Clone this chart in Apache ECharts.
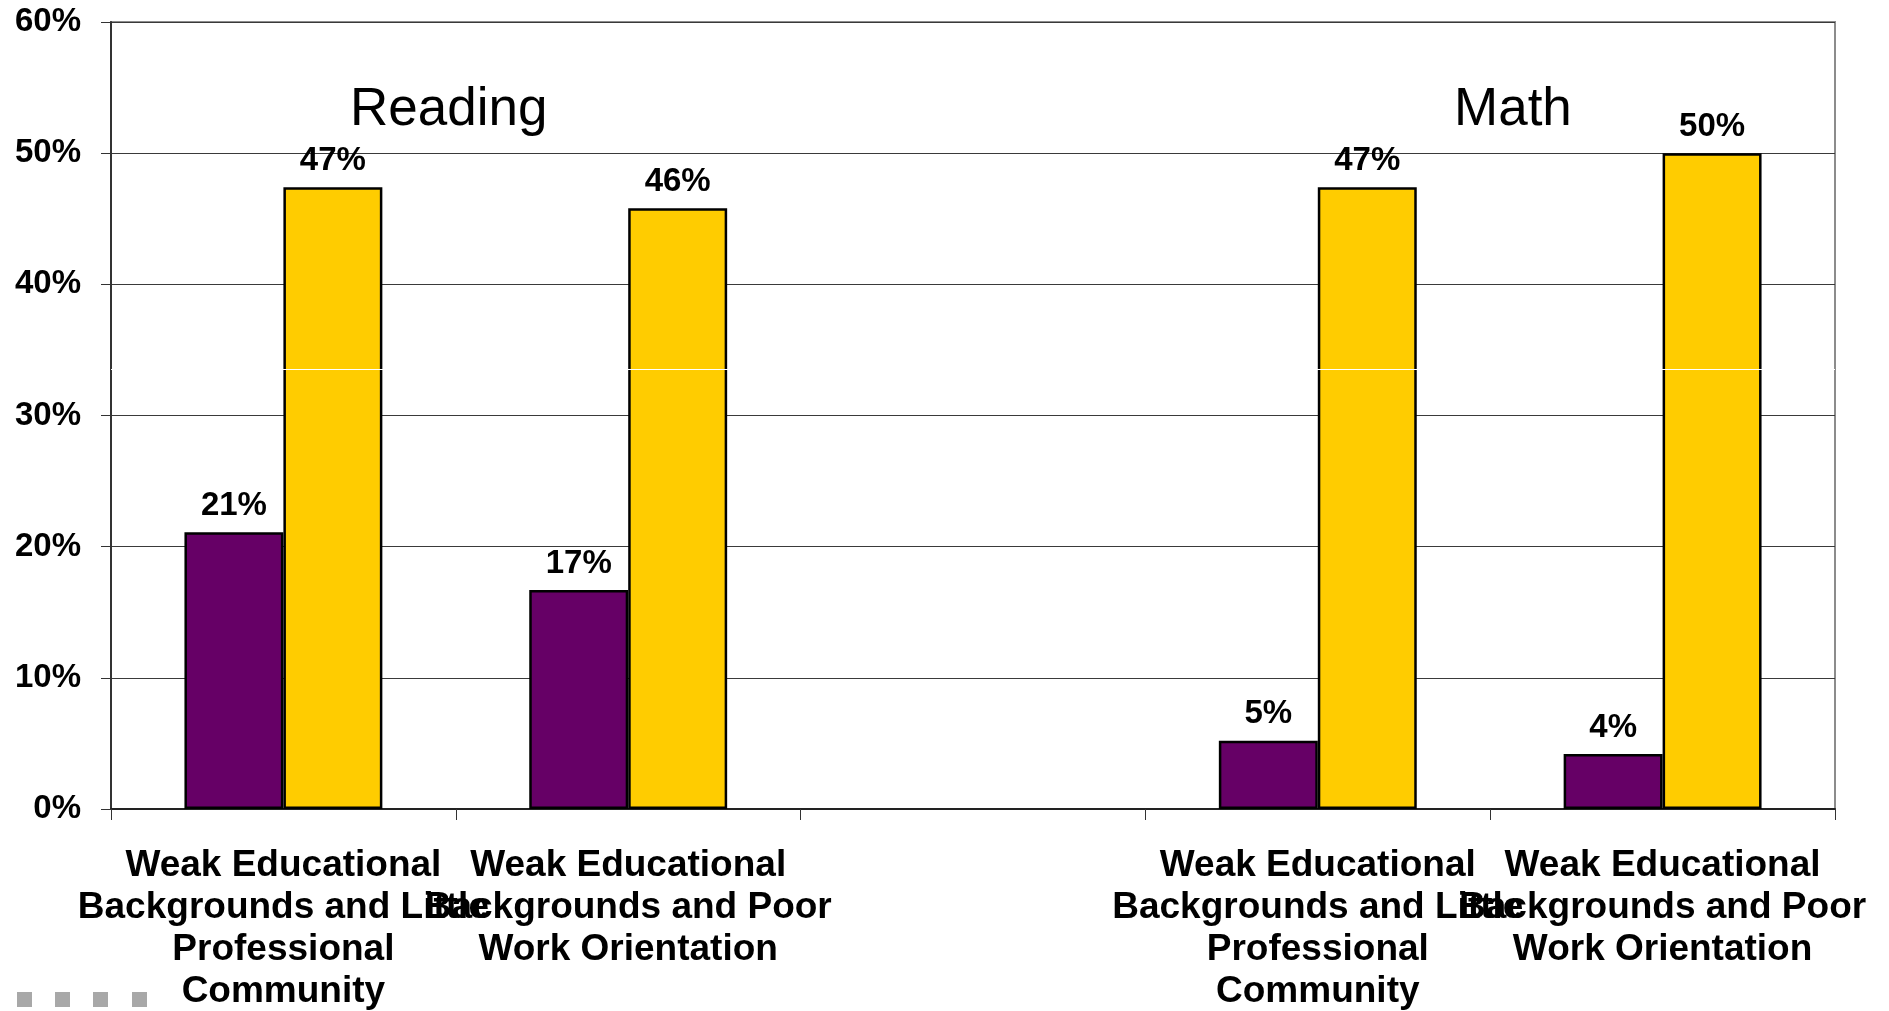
<!DOCTYPE html>
<html>
<head>
<meta charset="utf-8">
<style>
  html, body { margin: 0; padding: 0; background: #ffffff; }
  #chart { width: 1889px; height: 1011px; }
</style>
<script src="https://cdn.jsdelivr.net/npm/echarts@6/dist/echarts.min.js"></script>
</head>
<body>
<div id="chart"></div>
<script>
// Category labels (the middle slot is an empty spacer between Reading and Math)
const categories = [
  'Weak Educational\nBackgrounds and Little\nProfessional\nCommunity',
  'Weak Educational\nBackgrounds and Poor\nWork Orientation',
  '',
  'Weak Educational\nBackgrounds and Little\nProfessional\nCommunity',
  'Weak Educational\nBackgrounds and Poor\nWork Orientation'
];

// Percent values per group
const purpleValues = [21.1, 16.7, null, 5.2, 4.2];
const goldValues   = [47.4, 45.8, null, 47.4, 50.0];

// Value axis ticks
const yMin = 0, yMax = 60, yStep = 10;

// Subject headings above each pair of groups
const subjectTitles = ['Reading', 'Math'];

const FONT = '"Liberation Sans", Arial, Helvetica, sans-serif';

const chart = echarts.init(document.getElementById('chart'), null, { renderer: 'canvas' });

const valueLabel = {
  show: true,
  position: 'top',
  distance: 10,
  color: '#000',
  fontFamily: FONT,
  fontWeight: 'bold',
  fontSize: 33,
  formatter: p => (p.value == null ? '' : Math.round(p.value) + '%')
};

const option = {
  animation: false,
  backgroundColor: '#ffffff',
  grid: {
    left: 111, right: 54, top: 22, bottom: 202,
    outerBoundsMode: 'none',
    containLabel: false,
    show: true,
    borderColor: '#8c8c8c',
    borderWidth: 2,
    backgroundColor: 'transparent'
  },
  xAxis: {
    type: 'category',
    data: categories,
    axisLine: { show: true, lineStyle: { color: '#222', width: 2 } },
    axisTick: { show: true, alignWithLabel: false, length: 11, lineStyle: { color: '#333', width: 1 } },
    axisLabel: {
      interval: 0,
      hideOverlap: false,
      margin: 36,
      color: '#000',
      fontFamily: FONT,
      fontWeight: 'bold',
      fontSize: 37,
      lineHeight: 42,
      align: 'center'
    },
    splitLine: { show: false }
  },
  yAxis: {
    type: 'value',
    min: yMin, max: yMax, interval: yStep,
    axisLine: { show: true, lineStyle: { color: '#333', width: 2 } },
    axisTick: { show: true, length: 10, lineStyle: { color: '#333', width: 1 } },
    axisLabel: {
      margin: 30,
      color: '#000',
      fontFamily: FONT,
      fontWeight: 'bold',
      fontSize: 33,
      formatter: '{value}%'
    },
    splitLine: { show: true, lineStyle: { color: '#3a3a3a', width: 1 } }
  },
  series: [
    {
      name: 'Purple',
      type: 'bar',
      data: purpleValues,
      barGap: '0%',
      barCategoryGap: '42.6%',
      itemStyle: { color: '#660066', borderColor: '#000', borderWidth: 2.5 },
      label: valueLabel
    },
    {
      name: 'Gold',
      type: 'bar',
      data: goldValues,
      barGap: '0%',
      barCategoryGap: '42.6%',
      itemStyle: { color: '#ffcc00', borderColor: '#000', borderWidth: 2.5 },
      label: valueLabel,
      markLine: {
        silent: true,
        symbol: ['none', 'none'],
        label: { show: false },
        lineStyle: { color: '#ffffff', width: 1, type: 'solid' },
        data: [{ yAxis: 33.5 }]
      }
    }
  ],
  graphic: [
    {
      type: 'text', left: 350, top: 84, silent: true,
      style: { text: subjectTitles[0], font: '53px ' + FONT, fill: '#000' }
    },
    {
      type: 'text', left: 1454, top: 84, silent: true,
      style: { text: subjectTitles[1], font: '53px ' + FONT, fill: '#000' }
    },
    { type: 'rect', left: 17, top: 992, shape: { width: 15, height: 15 }, style: { fill: '#a8a8a8' }, silent: true },
    { type: 'rect', left: 55, top: 992, shape: { width: 15, height: 15 }, style: { fill: '#a8a8a8' }, silent: true },
    { type: 'rect', left: 93, top: 992, shape: { width: 15, height: 15 }, style: { fill: '#a8a8a8' }, silent: true },
    { type: 'rect', left: 132, top: 992, shape: { width: 15, height: 15 }, style: { fill: '#a8a8a8' }, silent: true }
  ]
};

chart.setOption(option);
</script>
</body>
</html>
